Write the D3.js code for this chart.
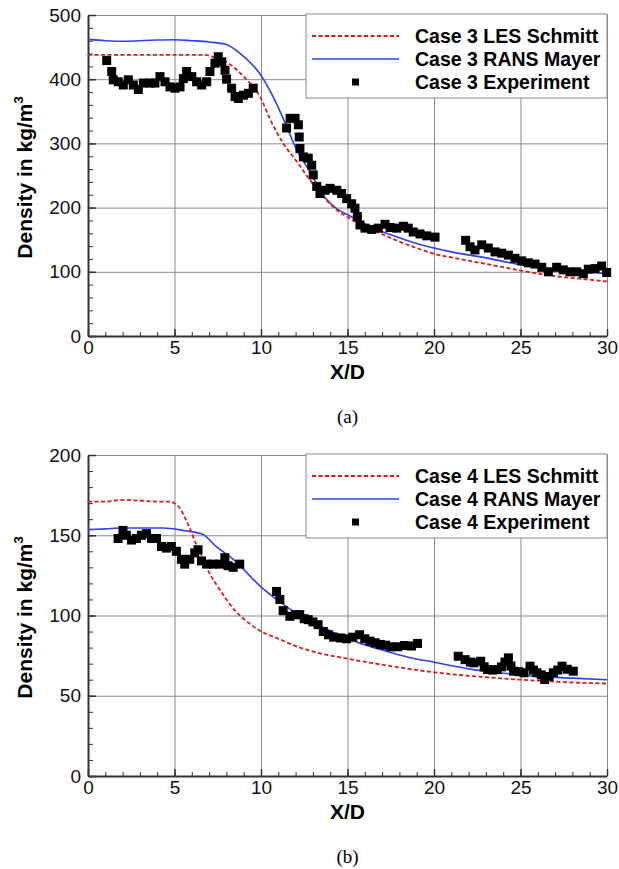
<!DOCTYPE html>
<html>
<head>
<meta charset="utf-8">
<script src="https://cdn.jsdelivr.net/npm/d3@7"></script>
<style>
  body { margin: 0; background: #fff; }
  text { font-family: "Liberation Sans", Arial, Helvetica, sans-serif; }
</style>
</head>
<body>
<div id="chart"></div>
<script>
// Data (X/D, density in kg/m^3)
const xTicks = [0, 5, 10, 15, 20, 25, 30];
const yTicksA = [0, 100, 200, 300, 400, 500];
const yTicksB = [0, 50, 100, 150, 200];

const lesA = [[0,438],[2,438],[4,438],[6,438],[6.67,438],[7.3,434],[8,427],[8.5,417],[9,404],[9.5,390],[9.94,373],
  [10.52,338],[11.29,300],[12.06,272],[12.83,243],[13.6,217],[14.3,198],[15.14,183],[16,170],[16.88,160],[18,147],
  [19,137],[20,128],[21.5,120],[22.85,113],[25,102],[26.9,93.5],[28.5,89],[30,85]];
const ransA = [[0,462],[1,460],[2,459],[3,460],[4,461],[5,461.5],[6,460],[7,458],[8,454],[8.8,440],[9.3,428],
  [9.84,412],[10.5,383],[11.1,350],[11.5,325],[12.06,290],[12.83,256],[13.6,219],[14.3,200],[15.14,187],[16,175],
  [16.88,164],[18,153],[19,144],[20,137],[21,131],[22.85,122.5],[25,111],[27,104],[28.5,100],[30,97]];
const expA = [[1.08,429],[1.37,412],[1.46,399],[1.75,396],[2.04,391],[2.33,399],[2.62,391],[2.91,384],[3.2,394],
  [3.58,394],[3.87,394],[4.16,404],[4.45,396],[4.74,388],[5.03,386],[5.32,388],[5.51,401],[5.7,412],[6.0,404],
  [6.28,396],[6.57,391],[6.86,396],[7.05,412],[7.34,425],[7.53,435],[7.73,427],[7.92,414],[8.01,400],[8.3,386],
  [8.5,373],[8.69,370],[8.98,375],[9.27,378],[9.55,386],
  [11.48,324],[11.68,339],[11.97,339],[12.16,329],[12.21,310],[12.25,292],[12.45,279],[12.73,277],[12.93,266],
  [13.02,251],[13.22,233],[13.41,222],[13.7,227],[13.99,230],[14.38,227],[14.66,222],[14.95,214],[15.24,206],
  [15.43,199],[15.57,186],[15.72,173],[16.01,168],[16.4,166],[16.78,168],[17.17,174],[17.46,169],[17.84,168],
  [18.23,171],[18.51,168],[18.8,162],[19.19,159],[19.58,156],[20.06,154],
  [21.83,149],[22.08,139],[22.37,134],[22.76,142],[23.14,137],[23.53,131],[23.91,129],[24.3,126],[24.68,121],
  [25.07,117],[25.45,114],[25.84,112],[26.23,107],[26.61,100],[27.09,107],[27.47,103],[27.86,100],[28.25,100],
  [28.63,97],[28.92,104],[29.31,105],[29.69,109],[29.98,99]];

const lesB = [[0,171],[1,171],[2,172],[3,171.5],[4,171],[4.72,171],[5.0,170],[5.3,167],[5.6,161],[5.9,154],
  [6.27,144],[6.46,140],[7.04,126],[7.5,118],[8,110],[8.5,103],[9.16,96.5],[10.1,89.5],[10.9,86],[12.24,80],
  [13.2,77],[15.04,73],[17.5,68.5],[19.95,64.7],[22.5,62],[25,60],[27.5,58.5],[30,57.6]];
const ransB = [[0,153.5],[1,154],[2,154.5],[3,154.5],[4.34,154.5],[5.5,153],[6.65,150.5],[7.4,143],[8.4,135],
  [9.93,118.5],[10.9,110],[11.86,102.6],[12.5,98],[13.5,93],[14.5,88],[15.52,83.5],[17,78.5],[18.5,74],
  [19.95,71],[22.27,66.3],[24,64],[25.8,62.2],[28,61],[30,60]];
const expB = [[1.74,148],[2.02,153],[2.22,150],[2.51,147],[2.8,148],[3.09,150],[3.38,151],[3.67,148],[3.96,148],
  [4.25,143],[4.53,142],[4.82,143],[5.11,140],[5.4,135],[5.59,132],[5.88,135],[6.17,139],[6.36,141],[6.56,134],
  [6.85,132],[7.23,132],[7.62,132],[7.91,136],[8.1,131],[8.39,130],[8.77,132],
  [10.9,115],[11.09,110],[11.28,103],[11.67,99.5],[12.0,100.5],[12.24,100.5],[12.5,98],[12.73,97.4],[13.0,96],
  [13.3,94.3],[13.6,90],[13.9,88],[14.2,86.5],[14.6,86],[14.95,85.5],[15.3,86.5],[15.7,88],[16.0,85.5],[16.3,84],
  [16.6,83],[16.9,82],[17.2,81.5],[17.5,80.5],[17.9,80.5],[18.3,81.3],[18.7,81],[19.05,82.6],
  [21.4,74.6],[21.8,72.5],[22.1,71],[22.3,70.5],[22.7,71.5],[22.9,68],[23.1,66.3],[23.4,66],[23.65,66.3],
  [23.9,68],[24.1,71],[24.3,73.6],[24.45,68.5],[24.6,65.3],[24.9,65],[25.2,64.3],[25.55,68.4],[25.75,66],
  [25.95,64.3],[26.2,63],[26.4,60.1],[26.65,62],[26.9,64.3],[27.15,66],[27.4,68.4],[27.7,66.5],[28.05,65.3]];

const width = 619;
const height = 869;
const plotLeft = 88;
const plotRight = 607;
const plotH = 321;
const red = "#dd1a1a";
const blue = "#3040f0";
const markerSize = 9;

const svg = d3.select("#chart").append("svg")
  .attr("width", width)
  .attr("height", height);

function drawPanel(p) {
  const g = svg.append("g").attr("transform", `translate(0, ${p.top})`);

  const x = d3.scaleLinear().domain([0, 30]).range([plotLeft, plotRight]);
  const y = d3.scaleLinear().domain([0, p.yMax]).range([plotH, 0]);

  // grid lines
  g.append("g")
    .attr("transform", `translate(0, ${plotH})`)
    .call(d3.axisBottom(x).tickValues(xTicks).tickSize(-plotH).tickFormat(""))
    .call(s => s.select(".domain").remove())
    .selectAll("line").attr("stroke", "#8a8a8a").attr("stroke-width", 1);
  g.append("g")
    .attr("transform", `translate(${plotLeft}, 0)`)
    .call(d3.axisLeft(y).tickValues(p.yTicks).tickSize(-(plotRight - plotLeft)).tickFormat(""))
    .call(s => s.select(".domain").remove())
    .selectAll("line").attr("stroke", "#8a8a8a").attr("stroke-width", 1);

  // minor ticks
  g.append("g")
    .attr("transform", `translate(0, ${plotH})`)
    .call(d3.axisBottom(x).tickValues(d3.range(0, 31, 1)).tickSize(-4).tickSizeOuter(0).tickFormat(""))
    .call(s => s.select(".domain").remove())
    .selectAll("line").attr("stroke", "#333").attr("stroke-width", 1);
  g.append("g")
    .attr("transform", `translate(${plotLeft}, 0)`)
    .call(d3.axisLeft(y).tickValues(d3.range(0, p.yMax + 1, p.yMinor)).tickSize(-5).tickSizeOuter(0).tickFormat(""))
    .call(s => s.select(".domain").remove())
    .selectAll("line").attr("stroke", "#333").attr("stroke-width", 1);

  // main axes
  const xAxis = g.append("g")
    .attr("transform", `translate(0, ${plotH})`)
    .call(d3.axisBottom(x).tickValues(xTicks).tickSize(-7).tickSizeOuter(0).tickPadding(5));
  const yAxis = g.append("g")
    .attr("transform", `translate(${plotLeft}, 0)`)
    .call(d3.axisLeft(y).tickValues(p.yTicks).tickSize(-8).tickSizeOuter(0).tickPadding(7));
  [xAxis, yAxis].forEach(a => {
    a.select(".domain").attr("stroke", "#333").attr("stroke-width", 2);
    a.selectAll(".tick line").attr("stroke", "#333").attr("stroke-width", 1.5);
    a.selectAll("text").attr("font-size", "19px").attr("fill", "#111")
      .attr("font-family", "Liberation Sans, Arial, sans-serif");
  });

  // model curves
  const line = d3.line().x(d => x(d[0])).y(d => y(d[1])).curve(d3.curveMonotoneX);
  g.append("path").datum(p.rans)
    .attr("fill", "none").attr("stroke", blue).attr("stroke-width", 1.6).attr("d", line);
  g.append("path").datum(p.les)
    .attr("fill", "none").attr("stroke", red).attr("stroke-width", 1.8)
    .attr("stroke-dasharray", "4,2.5").attr("d", line);

  // experiment markers
  g.selectAll(".exp").data(p.exp).enter().append("rect")
    .attr("class", "exp")
    .attr("x", d => x(d[0]) - markerSize / 2)
    .attr("y", d => y(d[1]) - markerSize / 2)
    .attr("width", markerSize).attr("height", markerSize)
    .attr("fill", "#000");

  // axis titles
  g.append("text")
    .attr("x", (plotLeft + plotRight) / 2)
    .attr("y", plotH + 43)
    .attr("text-anchor", "middle")
    .style("font-size", "21px").style("font-weight", "bold")
    .text("X/D");
  const yt = g.append("text")
    .attr("transform", `translate(32, ${plotH / 2 + 2}) rotate(-90)`)
    .attr("text-anchor", "middle")
    .style("font-size", "21px").style("font-weight", "bold");
  yt.append("tspan").text("Density in kg/m");
  yt.append("tspan").attr("dy", -9).style("font-size", "13px").text("3");

  // caption
  g.append("text")
    .attr("x", (plotLeft + plotRight) / 2)
    .attr("y", plotH + 87)
    .attr("text-anchor", "middle")
    .style("font-family", "Liberation Serif, Times New Roman, serif")
    .style("font-size", "19px")
    .text(p.caption);

  // legend
  const lg = g.append("g").attr("transform", "translate(306, -1)");
  lg.append("rect")
    .attr("width", 301).attr("height", 84)
    .attr("fill", "#fff").attr("stroke", "#8a8a8a").attr("stroke-width", 1);
  const rows = [22, 45, 68];
  lg.append("line").attr("x1", 6).attr("x2", 93).attr("y1", rows[0]).attr("y2", rows[0])
    .attr("stroke", red).attr("stroke-width", 1.8).attr("stroke-dasharray", "4,2.5");
  lg.append("line").attr("x1", 6).attr("x2", 93).attr("y1", rows[1]).attr("y2", rows[1])
    .attr("stroke", blue).attr("stroke-width", 1.6);
  lg.append("rect").attr("x", 46).attr("y", rows[2] - 3.5).attr("width", 7).attr("height", 7).attr("fill", "#000");
  p.labels.forEach((t, i) => {
    lg.append("text")
      .attr("x", 109)
      .attr("y", rows[i] + 7)
      .style("font-size", "19.5px").style("font-weight", "bold")
      .text(t);
  });
}

drawPanel({
  top: 15, yMax: 500, yTicks: yTicksA, yMinor: 20,
  les: lesA, rans: ransA, exp: expA, caption: "(a)",
  labels: ["Case 3 LES Schmitt", "Case 3 RANS Mayer", "Case 3 Experiment"]
});
drawPanel({
  top: 455, yMax: 200, yTicks: yTicksB, yMinor: 10,
  les: lesB, rans: ransB, exp: expB, caption: "(b)",
  labels: ["Case 4 LES Schmitt", "Case 4 RANS Mayer", "Case 4 Experiment"]
});
</script>
</body>
</html>
